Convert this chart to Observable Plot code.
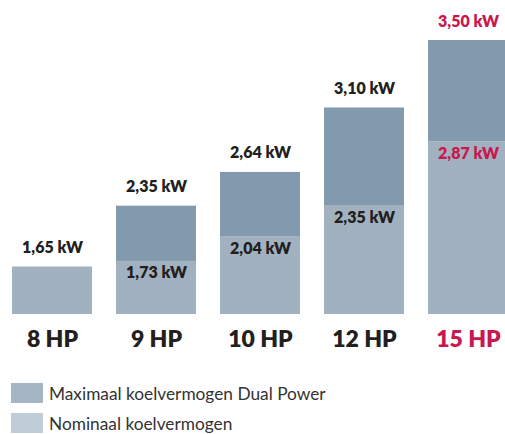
<!DOCTYPE html>
<html>
<head>
<meta charset="utf-8">
<script src="https://cdn.jsdelivr.net/npm/d3@7"></script>
<script src="https://cdn.jsdelivr.net/npm/@observablehq/plot@0.6"></script>
<style>
  html, body { margin: 0; padding: 0; background: #fff; overflow: hidden; }
  body { width: 505px; height: 434px; font-family: Lato, "Open Sans", sans-serif; }
  #chart svg { display: block; }
  .legend { position: absolute; left: 11px; top: 383px; }
  .row { display: flex; align-items: center; height: 20px; margin-bottom: 10px; font-size: 17.3px; color: #333; }
  .sw { width: 32px; height: 20px; margin-right: 6px; }
</style>
</head>
<body>
<div id="chart"></div>
<div class="legend">
  <div class="row"><div class="sw" style="background:#A6B5C4"></div><span>Maximaal koelvermogen Dual Power</span></div>
  <div class="row"><div class="sw" style="background:#C0CCD6"></div><span>Nominaal koelvermogen</span></div>
</div>
<script>
const categories = ["8 HP", "9 HP", "10 HP", "12 HP", "15 HP"];
const nominalValues = [1.65, 1.73, 2.04, 2.35, 2.87];
const maxValues = [null, 2.35, 2.64, 3.10, 3.50];
const highlightCategory = "15 HP";

const dark = "#8399AD";
const light = "#A2B1BF";
const red = "#C8184F";
const ink = "#231F20";

const fmt = v => v.toFixed(2).replace(".", ",") + " kW";

const data = categories.map((c, i) => ({
  cat: c,
  nominal: nominalValues[i],
  max: maxValues[i],
  top: maxValues[i] ?? nominalValues[i],
  hi: c === highlightCategory
}));
const withMax = data.filter(d => d.max != null);

const font = "Lato, 'Open Sans', sans-serif";

const plot = Plot.plot({
  width: 505,
  height: 360,
  marginLeft: 10,
  marginRight: -5,
  marginTop: 40,
  marginBottom: 46,
  style: { fontFamily: font, background: "#fff" },
  x: { domain: categories, paddingInner: 0.2267, paddingOuter: 0, axis: null },
  y: { type: "pow", exponent: 2.33, domain: [0, 3.5], axis: null },
  marks: [
    Plot.rectY(data, { x: "cat", y1: 0, y2: "nominal", fill: light }),
    Plot.rectY(withMax, { x: "cat", y1: "nominal", y2: "max", fill: dark }),
    // top labels
    Plot.text(data, { x: "cat", y: "top", text: d => fmt(d.top), fill: d => d.hi ? red : ink,
      lineAnchor: "bottom", dy: -14, fontSize: 16, fontWeight: 800 }),
    // inner labels
    Plot.text(withMax, { x: "cat", y: "nominal", text: d => fmt(d.nominal), fill: d => d.hi ? red : ink,
      lineAnchor: "bottom", dy: 17, fontSize: 16, fontWeight: 800 }),
    // category labels
    Plot.text(data, { x: "cat", frameAnchor: "bottom", text: "cat", fill: d => d.hi ? red : ink,
      lineAnchor: "bottom", dy: 32, fontSize: 23, fontWeight: 800 })
  ],
  color: { type: "identity" }
});
document.getElementById("chart").append(plot);
</script>
</body>
</html>
